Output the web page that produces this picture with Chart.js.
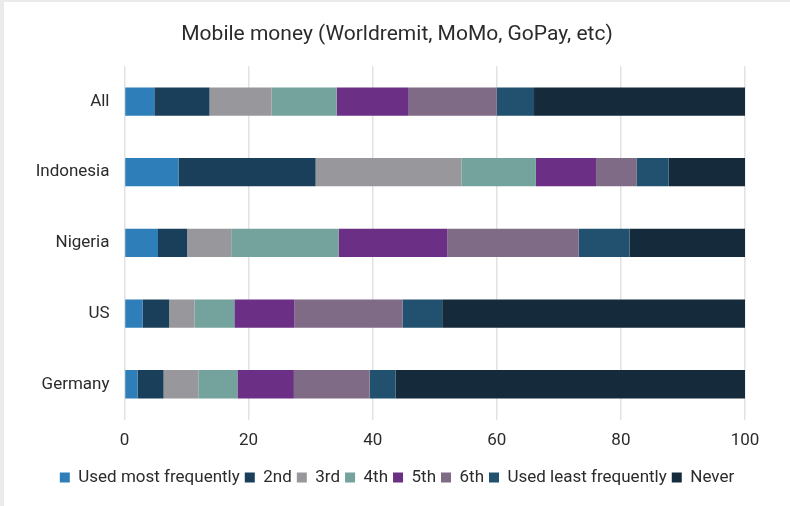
<!DOCTYPE html>
<html>
<head>
<meta charset="utf-8">
<script src="https://cdn.jsdelivr.net/npm/chart.js@4.4.1/dist/chart.umd.min.js"></script>
<style>
  html, body { margin: 0; padding: 0; background: #ebebeb; width: 790px; height: 506px; overflow: hidden; }
  #wrap { position: absolute; left: 4px; top: 2px; width: 786px; height: 504px; background: #ffffff; }
</style>
</head>
<body>
<div id="wrap"><canvas id="c"></canvas></div>
<script>
const categories = ["All", "Indonesia", "Nigeria", "US", "Germany"];
const seriesNames = ["Used most frequently", "2nd", "3rd", "4th", "5th", "6th", "Used least frequently", "Never"];
const usedMost  = [4.8, 8.7, 5.4, 2.9, 2.1];
const second    = [8.9, 22.1, 4.7, 4.3, 4.2];
const third     = [10.0, 23.5, 7.1, 4.1, 5.6];
const fourth    = [10.5, 12.0, 17.3, 6.4, 6.3];
const fifth     = [11.6, 9.7, 17.5, 9.7, 9.1];
const sixth     = [14.2, 6.5, 21.2, 17.4, 12.2];
const usedLeast = [6.0, 5.2, 8.2, 6.4, 4.2];
const never     = [34.0, 12.3, 18.6, 48.8, 56.3];
const xTicks    = [0, 20, 40, 60, 80, 100];
const colors = ["#2e7fb9", "#1a3f5b", "#98989c", "#74a39d", "#6b2f85", "#806b87", "#21516f", "#152a3a"];

const values = [usedMost, second, third, fourth, fifth, sixth, usedLeast, never];
const datasets = seriesNames.map((n, i) => ({
  label: n,
  data: values[i],
  backgroundColor: colors[i],
  borderWidth: 0,
  barPercentage: 0.8,
  categoryPercentage: 0.5
}));

new Chart(document.getElementById('c'), {
  type: 'bar',
  data: { labels: categories, datasets },
  options: {
    indexAxis: 'y',
    responsive: true,
    maintainAspectRatio: false,
    animation: false,
    layout: { padding: { left: 0, right: 0, top: 0, bottom: 10 } },
    plugins: {
      title: {
        display: true,
        text: "Mobile money (Worldremit, MoMo, GoPay, etc)",
        color: '#2b2b2b',
        font: { family: 'Roboto', size: 21, weight: 'normal' },
        padding: { top: 20, bottom: 19 }
      },
      legend: {
        position: 'bottom',
        labels: {
          boxWidth: 10,
          boxHeight: 10,
          padding: 5,
          color: '#2b2b2b',
          font: { family: 'Roboto', size: 17 }
        }
      },
      tooltip: { enabled: false }
    },
    scales: {
      x: {
        stacked: true,
        min: 0,
        max: 100,
        afterBuildTicks: (s) => { s.ticks = xTicks.map(v => ({ value: v })); },
        afterFit: (s) => { s.height += 2; },
        grid: { color: '#e2e2e2', lineWidth: 1.5, drawTicks: false },
        border: { display: false },
        ticks: { color: '#2b2b2b', font: { family: 'Roboto', size: 17 }, padding: 11 }
      },
      y: {
        stacked: true,
        grid: { display: false, drawTicks: false },
        border: { display: false },
        afterFit: (s) => { s.width = 120.5; },
        ticks: { color: '#2b2b2b', font: { family: 'Roboto', size: 17 }, padding: 15 }
      },
      yRight: {
        position: 'right',
        display: true,
        grid: { display: false, drawTicks: false },
        border: { display: false },
        ticks: { display: false },
        afterFit: (s) => { s.width = 45; }
      }
    }
  }
});
</script>
</body>
</html>
